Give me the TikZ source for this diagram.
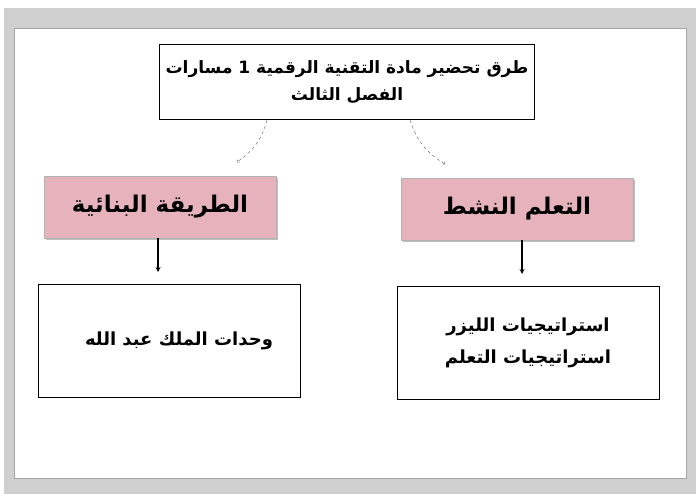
\documentclass[tikz,border=0pt]{standalone}
\usepackage{fontspec}
\newfontfamily\arabicfont[Script=Arabic]{DejaVu Sans}
\TeXXeTstate=1
\usetikzlibrary{positioning,arrows,shadows}
\definecolor{pinkbox}{HTML}{E6B3BC}
\definecolor{framegrey}{HTML}{CFCFCF}
\tikzset{
  title/.style = {draw, very thick, fill=white, minimum width=375pt, minimum height=75pt, inner xsep=4pt, align=center, font=\arabicfont\bfseries\fontsize{17}{27}\selectfont},
  head/.style = {draw=gray!60, fill=pinkbox, drop shadow={opacity=0.5}, minimum width=232pt, minimum height=62pt, font=\arabicfont\bfseries\fontsize{23}{26}\selectfont},
  leaf/.style = {draw, thick, fill=white, minimum width=262pt, minimum height=113pt, align=center, font=\arabicfont\bfseries\fontsize{18}{32}\selectfont}
}
\begin{document}
\begin{tikzpicture}[x=1pt, y=1pt]
    \useasboundingbox (0,0) rectangle (700,-500);
    \fill[framegrey] (4,-8) rectangle (696,-494);
    \fill[white, draw=gray!70, thick] (14,-28) rectangle (686,-478);

    \node[title] (top) at (347,-82) {\beginR طرق تحضير مادة التقنية الرقمية 1 مسارات\endR\\ \beginR الفصل الثالث\endR};
    \node[head] (left) at (160,-207) {\beginR الطريقة البنائية\endR};
    \node[head] (right) at (517,-209) {\beginR التعلم النشط\endR};
    \node[leaf] (leftbox) at (169,-341) {\hspace*{20pt}\beginR وحدات الملك عبد الله\endR};
    \node[leaf] (rightbox) at (528,-343) {\beginR استراتيجيات الليزر\endR\\ \beginR استراتيجيات التعلم\endR};

    \coordinate (lend) at (237,-162);
    \coordinate (rend) at (445,-164);
    \coordinate (ldown) at (158,-272);
    \coordinate (rdown) at (522,-274);
    \draw[->, dashed, gray!70!black] ([xshift=-80pt]top.south) to[bend left=20] (lend);
    \draw[->, dashed, gray!70!black] ([xshift=63pt]top.south) to[bend right=20] (rend);
    \draw[-stealth, line width=1.2pt] (left.south -| ldown) -- (ldown);
    \draw[-stealth, line width=1.2pt] (right.south -| rdown) -- (rdown);
\end{tikzpicture}
\end{document}
